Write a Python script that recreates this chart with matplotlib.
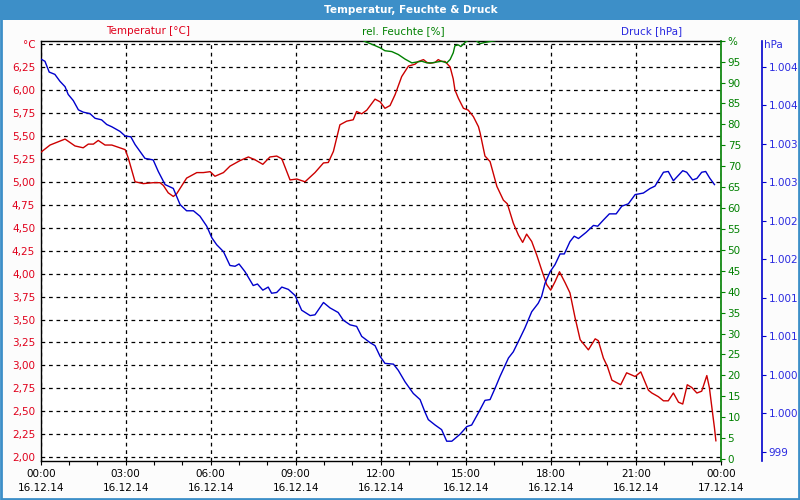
import matplotlib.pyplot as plt
from matplotlib.patches import Rectangle
from matplotlib.ticker import FixedLocator, FuncFormatter

# hours since 16.12.14 00:00
temp_h = [0.00, 0.33, 0.86, 1.21, 1.50, 1.68, 1.86, 2.03, 2.27, 2.51, 2.98, 3.09,
          3.33, 3.62, 3.97, 4.21, 4.33, 4.50, 4.68, 4.80, 5.15, 5.51, 5.74, 5.98,
          6.15, 6.45, 6.68, 7.03, 7.33, 7.56, 7.84, 8.09, 8.33, 8.51, 8.80, 9.04,
          9.33, 9.68, 9.98, 10.15, 10.33, 10.56, 10.80, 11.03, 11.15, 11.33, 11.51,
          11.80, 11.98, 12.15, 12.33, 12.51, 12.74, 12.98, 13.21, 13.33, 13.51,
          13.63, 13.74, 13.92, 14.03, 14.15, 14.27, 14.45, 14.56, 14.62, 14.74,
          14.92, 15.09, 15.27, 15.45, 15.51, 15.68, 15.86, 16.10, 16.33, 16.47,
          16.68, 16.86, 17.01, 17.15, 17.33, 17.51, 17.68, 17.86, 18.00, 18.15,
          18.31, 18.51, 18.68, 18.86, 19.04, 19.33, 19.57, 19.68, 19.86, 20.00,
          20.16, 20.47, 20.68, 20.98, 21.18, 21.45, 21.57, 21.80, 21.98, 22.15,
          22.33, 22.51, 22.66, 22.82, 22.98, 23.16, 23.33, 23.51, 23.60, 23.71,
          23.78, 23.83]
temp_c = [5.32, 5.40, 5.465, 5.39, 5.37, 5.41, 5.41, 5.45, 5.40, 5.40, 5.35, 5.26,
          5.00, 4.98, 4.99, 4.99, 4.96, 4.88, 4.84, 4.87, 5.04, 5.10, 5.10, 5.11,
          5.06, 5.10, 5.17, 5.23, 5.27, 5.24, 5.19, 5.27, 5.28, 5.25, 5.02, 5.03,
          5.00, 5.10, 5.205, 5.21, 5.33, 5.62, 5.66, 5.675, 5.765, 5.74, 5.78,
          5.90, 5.87, 5.80, 5.83, 5.95, 6.145, 6.26, 6.28, 6.31, 6.33,
          6.30, 6.29, 6.30, 6.33, 6.31, 6.31, 6.25, 6.12, 6.00, 5.91,
          5.80, 5.78, 5.71, 5.60, 5.53, 5.28, 5.22, 4.95, 4.80, 4.76,
          4.55, 4.42, 4.34, 4.43, 4.35, 4.20, 4.04, 3.88, 3.82, 3.91,
          4.02, 3.90, 3.79, 3.52, 3.28, 3.17, 3.29, 3.27, 3.08, 2.99,
          2.84, 2.79, 2.92, 2.88, 2.93, 2.73, 2.70, 2.66, 2.615, 2.615,
          2.70, 2.60, 2.58, 2.79, 2.76, 2.70, 2.72, 2.89, 2.76, 2.49,
          2.32, 2.18]

press_h = [0.00, 0.15, 0.30, 0.50, 0.68, 0.86, 0.97, 1.15, 1.33, 1.50, 1.74, 1.92,
           2.15, 2.33, 2.51, 2.80, 2.98, 3.18, 3.33, 3.68, 3.97, 4.15, 4.39, 4.68,
           4.92, 5.15, 5.39, 5.62, 5.86, 6.04, 6.21, 6.45, 6.68, 6.86, 7.00, 7.21,
           7.50, 7.65, 7.84, 8.03, 8.15, 8.33, 8.51, 8.74, 8.98, 9.21, 9.51, 9.68,
           9.98, 10.21, 10.50, 10.68, 10.92, 11.15, 11.33, 11.62, 11.80, 11.98,
           12.15, 12.45, 12.62, 12.86, 13.15, 13.39, 13.56, 13.68, 13.92, 14.15,
           14.33, 14.51, 14.80, 15.04, 15.21, 15.45, 15.68, 15.86, 16.04, 16.21,
           16.51, 16.68, 16.92, 17.09, 17.33, 17.56, 17.68, 17.80, 17.98, 18.15,
           18.33, 18.48, 18.68, 18.83, 18.98, 19.25, 19.51, 19.66, 19.86, 20.07,
           20.31, 20.51, 20.74, 20.98, 21.27, 21.51, 21.68, 21.98, 22.15, 22.33,
           22.66, 22.80, 23.01, 23.16, 23.33, 23.47, 23.62, 23.78]
press_hpa = [1004.10, 1004.07, 1003.93, 1003.90, 1003.81, 1003.74, 1003.64, 1003.56,
             1003.44, 1003.41, 1003.39, 1003.33, 1003.31, 1003.25, 1003.22, 1003.16,
             1003.10, 1003.09, 1002.99, 1002.81, 1002.79, 1002.64, 1002.47, 1002.42,
             1002.21, 1002.13, 1002.13, 1002.06, 1001.93, 1001.78, 1001.69, 1001.60,
             1001.42, 1001.41, 1001.44, 1001.34, 1001.16, 1001.18, 1001.10, 1001.14,
             1001.06, 1001.07, 1001.14, 1001.11, 1001.03, 1000.84, 1000.77, 1000.78,
             1000.94, 1000.87, 1000.81, 1000.71, 1000.65, 1000.63, 1000.50, 1000.42,
             1000.38, 1000.24, 1000.15, 1000.14, 1000.06, 999.91, 999.76, 999.68,
             999.52, 999.42, 999.35, 999.29, 999.14, 999.14, 999.23, 999.33, 999.35,
             999.51, 999.67, 999.68, 999.83, 999.98, 1000.22, 1000.30, 1000.48,
             1000.61, 1000.82, 1000.93, 1001.02, 1001.19, 1001.34, 1001.43, 1001.57,
             1001.57, 1001.73, 1001.80, 1001.77, 1001.85, 1001.94, 1001.93, 1002.01,
             1002.09, 1002.09, 1002.19, 1002.22, 1002.34, 1002.36, 1002.42, 1002.45,
             1002.63, 1002.64, 1002.52, 1002.65, 1002.63, 1002.53, 1002.55, 1002.63,
             1002.64, 1002.55, 1002.47]

hum_h = [11.20, 11.39, 11.45, 11.74, 11.98, 12.15, 12.39, 12.62, 12.86, 13.10, 13.27,
         13.45, 13.63, 13.80, 13.98, 14.15, 14.33, 14.45, 14.56, 14.62, 14.74, 14.83,
         14.98, 15.09, 15.33, 15.51, 15.68, 15.86, 16.04, 16.30]
hum_pct = [101.0, 100.0, 99.8, 99.0, 98.3, 97.6, 97.4, 96.7, 95.6, 94.7, 94.9,
           95.1, 94.7, 94.7, 94.9, 95.1, 94.7, 95.5, 97.1, 98.8, 99.0, 98.6,
           99.6, 100.1, 100.2, 99.3, 99.6, 99.8, 100.0, 101.0]

x_ticks = [0, 3, 6, 9, 12, 15, 18, 21, 24]
x_labels = ["00:00\n16.12.14", "03:00\n16.12.14", "06:00\n16.12.14",
            "09:00\n16.12.14", "12:00\n16.12.14", "15:00\n16.12.14",
            "18:00\n16.12.14", "21:00\n16.12.14", "00:00\n17.12.14"]
temp_ticks = [2.00, 2.25, 2.50, 2.75, 3.00, 3.25, 3.50, 3.75, 4.00, 4.25, 4.50,
              4.75, 5.00, 5.25, 5.50, 5.75, 6.00, 6.25, 6.50]
hum_ticks = list(range(0, 101, 5))
press_ticks = [999.0, 999.5, 1000.0, 1000.5, 1001.0, 1001.5, 1002.0, 1002.5,
               1003.0, 1003.5, 1004.0]

RED = "#cc0000"
RED_TXT = "#e0001b"
GREEN = "#008000"
BLUE = "#0000cc"
BLUE_TXT = "#2a2ae0"
FS = 7.5

plt.rcParams["font.family"] = "DejaVu Sans"

fig = plt.figure(figsize=(8, 5), dpi=100)
fig.patch.set_facecolor("#fcfcfc")

# title bar and window border
fig.patches.append(Rectangle((0, 1 - 20 / 500), 1, 20 / 500, transform=fig.transFigure,
                             facecolor="#3d8fc8", edgecolor="none", zorder=0))
fig.patches.append(Rectangle((0.001, 0.002), 0.998, 0.996, transform=fig.transFigure,
                             fill=False, edgecolor="#3d8fc8", linewidth=2, zorder=5))
fig.text(0.514, 1 - 10 / 500, "Temperatur, Feuchte & Druck", color="white",
         fontsize=7.6, fontweight="bold", ha="center", va="center")

ax = fig.add_axes([40.7 / 800, 1 - 460.7 / 500, 680 / 800, 420 / 500])
ax.set_facecolor("white")
ax.set_xlim(0, 24)
ax.set_ylim(1.963, 6.536)
ax.set_xticks(x_ticks)
ax.set_xticklabels(x_labels, fontsize=FS, linespacing=1.55)
ax.xaxis.set_minor_locator(FixedLocator(range(25)))
ax.tick_params(axis="x", which="both", direction="out", length=3, width=0.8, pad=3)
ax.set_yticks(temp_ticks)
ax.set_yticklabels([f"{t:.2f}".replace(".", ",") for t in temp_ticks[:-1]] + ["°C"],
                   fontsize=FS, color=RED_TXT)
ax.tick_params(axis="y", length=0, pad=4)
ax.grid(True, which="major", color="black", linestyle=(0, (3, 3)), linewidth=0.9)
for s in ["left", "top", "bottom"]:
    ax.spines[s].set_linewidth(1)
ax.spines["right"].set_visible(False)
ax.plot(temp_h, temp_c, color=RED, linewidth=1, zorder=3)

# humidity axis
ax2 = ax.twinx()
ax2.set_ylim(-0.4, 100)
ax2.set_yticks(hum_ticks)
ax2.set_yticklabels([str(v) for v in hum_ticks[:-1]] + ["%"], fontsize=FS, color=GREEN)
ax2.tick_params(axis="y", direction="out", length=3, color=GREEN, pad=2)
ax2.spines["right"].set_color(GREEN)
ax2.spines["right"].set_linewidth(1.2)
for s in ["left", "top", "bottom"]:
    ax2.spines[s].set_visible(False)
ax2.plot(hum_h, hum_pct, color=GREEN, linewidth=1, zorder=3)

# pressure axis
ax3 = ax.twinx()
ax3.spines["right"].set_position(("axes", 1 + 41 / 680))
ax3.set_ylim(998.887, 1004.337)
ax3.set_yticks(press_ticks)


def hpa_fmt(v, pos):
    n = int(v + 0.5)
    return f"{n:,}".replace(",", ".")


ax3.yaxis.set_major_formatter(FuncFormatter(hpa_fmt))
ax3.tick_params(axis="y", direction="out", length=3, color=BLUE, labelcolor=BLUE_TXT,
                labelsize=FS, pad=2)
ax3.spines["right"].set_color(BLUE)
ax3.spines["right"].set_linewidth(1.2)
for s in ["left", "top", "bottom"]:
    ax3.spines[s].set_visible(False)
ax3.plot(press_h, press_hpa, color=BLUE, linewidth=1, zorder=3)

# series captions above the plot
fig.text(148 / 800, 1 - 31 / 500, "Temperatur [°C]", color=RED_TXT, fontsize=FS,
         ha="center", va="center")
fig.text(403 / 800, 1 - 31 / 500, "rel. Feuchte [%]", color=GREEN, fontsize=FS,
         ha="center", va="center")
fig.text(652 / 800, 1 - 31 / 500, "Druck [hPa]", color=BLUE_TXT, fontsize=FS,
         ha="center", va="center")
fig.text(764 / 800, 1 - 45 / 500, "hPa", color=BLUE_TXT, fontsize=FS,
         ha="left", va="center")

fig.savefig("out.png", dpi=100, facecolor=fig.get_facecolor())
